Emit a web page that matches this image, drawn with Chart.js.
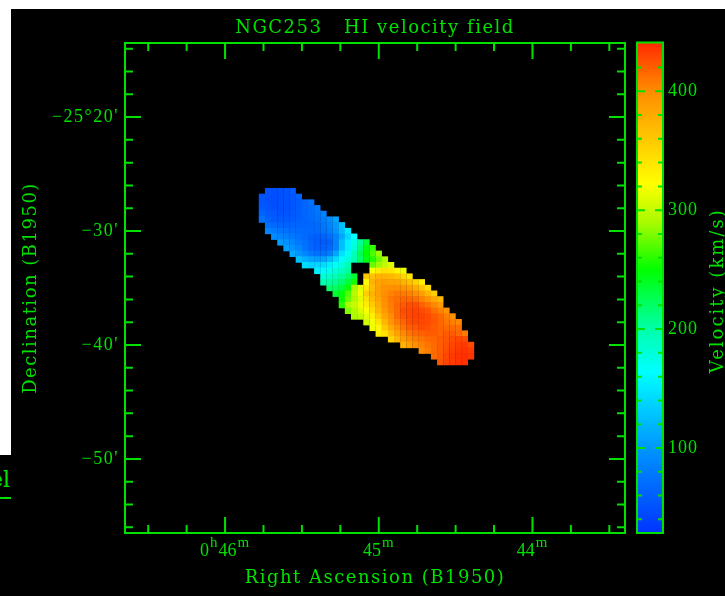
<!DOCTYPE html>
<html>
<head>
<meta charset="utf-8">
<title>NGC253 HI velocity field</title>
<script src="https://cdn.jsdelivr.net/npm/chart.js@4.4.0/dist/chart.umd.min.js"></script>
<style>
  html, body { margin: 0; padding: 0; background: #fff; overflow: hidden; }
  .blk { position: absolute; background: #000; }
  #main { position: absolute; left: 0; top: 0; }
  #cbar { position: absolute; left: 630px; top: 0; }
  #frag { position: absolute; left: 0; top: 465px; width: 11px; height: 30px; overflow: hidden; }
  #frag span { position: absolute; right: 1px; top: 0; font: 22px 'DejaVu Serif'; color: rgb(0,225,0); line-height: 30px; white-space: nowrap; }
  #fragLine { position: absolute; left: 0; top: 497px; width: 11px; height: 2px; background: rgb(0,225,0); }
</style>
</head>
<body>
<div class="blk" style="left:11px;top:9px;width:714px;height:587px"></div>
<div class="blk" style="left:0;top:455px;width:11px;height:141px"></div>
<div id="frag"><span>el</span></div>
<div id="fragLine"></div>
<canvas id="main" width="725" height="596"></canvas>
<canvas id="cbar" width="95" height="596"></canvas>
<script>
const GREEN = 'rgb(0,225,0)';
const TICK_FONT = 'Liberation Serif';
const LABEL_FONT = 'DejaVu Serif';

// RA in minutes of 0h, Dec as arcmin past -25 deg
const raRange = [43.398, 46.651];
const decRange = [-56.5, -13.5];
const raMajor = [46, 45, 44];
const raLabels = ['0h46m', '45m', '44m'];   // letters go up as superscripts
const decMajor = [-20, -30, -40, -50];
const decLabels = ["−25°20'", "−30'", "−40'", "−50'"];

// colour bar (km/s)
const velRange = [28.5, 441];
const velMajor = [100, 200, 300, 400];
const velLabels = ['100', '200', '300', '400'];

// colour table
const cmapVals = [28, 60, 100, 164, 200, 250, 290, 322, 360, 400, 420, 441];
const cmapR = [0, 0, 0, 0, 0, 0, 170, 255, 255, 255, 255, 255];
const cmapG = [50, 95, 150, 255, 255, 255, 250, 255, 200, 140, 95, 40];
const cmapB = [255, 255, 255, 255, 170, 0, 0, 0, 0, 0, 0, 0];

// velocity field: one row per 0.5' of Dec, cells every 0.04 min of RA going west
const raStep = 0.04;
const decRows = [-26.5, -27.0, -27.5, -28.0, -28.5, -29.0, -29.5, -30.0, -30.5, -31.0,
  -31.5, -32.0, -32.5, -33.0, -33.5, -34.0, -34.5, -35.0, -35.5, -36.0,
  -36.5, -37.0, -37.5, -38.0, -38.5, -39.0, -39.5, -40.0, -40.5, -41.0, -41.5];
const raFirst = [45.72, 45.76, 45.76, 45.76, 45.76, 45.76, 45.72, 45.72, 45.68, 45.64,
  45.60, 45.56, 45.52, 45.48, 45.40, 45.36, 45.36, 45.32, 45.28, 45.24,
  45.24, 45.20, 45.16, 45.08, 45.04, 45.00, 44.92, 44.84, 44.72, 44.64, 44.60];
const velRows = [
  [50, 49, 50, 52, 57],
  [51, 49, 48, 48, 51, 54, 60],
  [53, 50, 48, 49, 50, 54, 58, 64, 73],
  [57, 52, 49, 50, 51, 53, 58, 65, 70, 79],
  [64, 57, 54, 51, 53, 55, 59, 64, 69, 75, 85],
  [72, 63, 57, 56, 57, 58, 61, 64, 67, 72, 80, 93, 107],
  [73, 67, 63, 63, 64, 64, 65, 66, 69, 76, 86, 102, 125],
  [86, 80, 75, 72, 70, 68, 67, 67, 68, 75, 82, 98, 123, 151],
  [93, 87, 83, 78, 74, 68, 62, 60, 62, 70, 85, 110, 140, 165],
  [103, 96, 88, 80, 72, 64, 58, 57, 60, 85, 125, 155, 175, 205, 232],
  [105, 98, 88, 75, 65, 60, 60, 66, 85, 125, 155, 180, 215, 245, 262],
  [110, 100, 88, 78, 72, 72, 82, 110, 145, 170, 195, 225, 250, 268, 285],
  [125, 115, 108, 104, 108, 122, 142, 162, 180, 198, 220, 245, 258, 275, 292],
  [142, 137, 138, 142, 154, 167, 179, 198, null, null, null, 275, 288, 298, 310],
  [155, 161, 171, 181, 191, 204, null, null, null, 320, 335, 345, 340, 328, 315],
  [179, 187, 195, 205, 219, 235, null, 360, 364, 374, 375, 372, 364, 351, 337],
  [196, 202, 208, 218, 232, 255, null, 323, 374, 384, 388, 385, 384, 375, 366, 353, 334],
  [219, 222, 232, 252, 290, 311, 339, 367, 387, 395, 397, 398, 395, 389, 378, 364, 346],
  [236, 248, 268, 296, 316, 357, 375, 387, 398, 404, 409, 408, 405, 399, 388, 371, 356],
  [250, 275, 293, 311, 342, 366, 384, 398, 409, 413, 417, 416, 413, 405, 395, 381, 370],
  [258, 290, 301, 316, 335, 357, 378, 396, 407, 416, 422, 427, 427, 419, 411, 401, 390],
  [280, 293, 309, 321, 346, 372, 391, 405, 415, 427, 429, 431, 428, 423, 413, 405, 395],
  [291, 298, 313, 331, 360, 382, 399, 415, 424, 429, 432, 431, 428, 422, 415, 406, 397],
  [304, 318, 343, 372, 394, 408, 418, 427, 430, 430, 428, 423, 417, 410, 406, 402],
  [316, 328, 359, 381, 398, 411, 421, 423, 428, 425, 422, 418, 415, 415, 413],
  [330, 341, 367, 387, 401, 411, 417, 419, 422, 421, 418, 421, 422, 416, 409],
  [350, 372, 389, 400, 407, 411, 415, 417, 421, 423, 427, 430, 428],
  [374, 388, 397, 406, 411, 415, 421, 425, 430, 433, 434, 428],
  [400, 407, 415, 421, 427, 432, 435, 437, 434],
  [415, 422, 429, 434, 437, 438, 436],
  [424, 430, 434, 437, 438]
];

function velColor(v) {
  let i = 1;
  while (i < cmapVals.length - 1 && v > cmapVals[i]) i++;
  const t = Math.min(1, Math.max(0, (v - cmapVals[i - 1]) / (cmapVals[i] - cmapVals[i - 1])));
  const c = [cmapR, cmapG, cmapB].map(a => Math.round(a[i - 1] + (a[i] - a[i - 1]) * t));
  return `rgb(${c[0]},${c[1]},${c[2]})`;
}

const cells = [];
decRows.forEach((dec, k) => {
  velRows[k].forEach((v, i) => {
    if (v === null) return; // blanked centre
    cells.push({ x: +(raFirst[k] - raStep * i).toFixed(2), y: dec, v: v });
  });
});

// inward tick marks, pgplot style
function tickList(from, to, step, major, majLen, minLen) {
  const out = [];
  for (let v = from; v <= to + 1e-9; v += step) {
    const r = Math.round(v * 100) / 100;
    out.push([r, major.includes(r) ? majLen : minLen]);
  }
  return out;
}

const spacing = {
  id: 'spacing',
  beforeDraw(chart, args, opts) { chart.ctx.letterSpacing = opts.px + 'px'; }
};

const boxPlugin = {
  id: 'box',
  afterDatasetsDraw(chart, args, opts) {
    const { ctx, chartArea: a, scales } = chart;
    ctx.save();
    ctx.strokeStyle = GREEN;
    ctx.lineWidth = 2;
    ctx.beginPath();
    (opts.x || []).forEach(([v, len]) => {
      const px = scales.x.getPixelForValue(v);
      ctx.moveTo(px, a.top); ctx.lineTo(px, a.top + len);
      ctx.moveTo(px, a.bottom); ctx.lineTo(px, a.bottom - len);
    });
    (opts.y || []).forEach(([v, len]) => {
      const py = scales.y.getPixelForValue(v);
      ctx.moveTo(a.left, py); ctx.lineTo(a.left + len, py);
      ctx.moveTo(a.right, py); ctx.lineTo(a.right - len, py);
    });
    ctx.stroke();
    ctx.strokeRect(a.left, a.top, a.right - a.left, a.bottom - a.top);
    ctx.restore();
  }
};

// RA labels with raised h / m
const raLabelPlugin = {
  id: 'raLabels',
  afterDraw(chart) {
    const { ctx, chartArea: a, scales } = chart;
    ctx.save();
    ctx.letterSpacing = '0px';
    ctx.fillStyle = GREEN;
    ctx.textAlign = 'left';
    ctx.textBaseline = 'alphabetic';
    raMajor.forEach((v, i) => {
      const parts = raLabels[i].match(/\d+|[a-z]+/g);
      const isNum = parts.map(p => /\d/.test(p));
      const fonts = isNum.map(n => (n ? 18 : 15) + `px '${TICK_FONT}'`);
      let w = 0;
      parts.forEach((p, j) => { ctx.font = fonts[j]; w += ctx.measureText(p).width + 1; });
      let x = scales.x.getPixelForValue(v) - w / 2;
      parts.forEach((p, j) => {
        ctx.font = fonts[j];
        ctx.fillText(p, x, a.bottom + (isNum[j] ? 23 : 14));
        x += ctx.measureText(p).width + 1;
      });
    });
    ctx.restore();
  }
};

const cbarTitle = {
  id: 'cbarTitle',
  afterDraw(chart) {
    const { ctx, chartArea: a } = chart;
    ctx.save();
    ctx.letterSpacing = '2px';
    ctx.translate(88.4, (a.top + a.bottom) / 2 + 3);
    ctx.rotate(-Math.PI / 2);
    ctx.fillStyle = GREEN;
    ctx.font = `18px '${LABEL_FONT}'`;
    ctx.textAlign = 'center';
    ctx.textBaseline = 'middle';
    ctx.fillText('Velocity (km/s)', 0, 0);
    ctx.restore();
  }
};

function cbarGradient(chart) {
  const { ctx, chartArea, scales } = chart;
  if (!chartArea) return 'transparent';
  const y = scales.y;
  const g = ctx.createLinearGradient(0, y.getPixelForValue(velRange[0]), 0, y.getPixelForValue(velRange[1]));
  const span = velRange[1] - velRange[0];
  g.addColorStop(0, velColor(velRange[0]));
  cmapVals.forEach(v => {
    const off = (v - velRange[0]) / span;
    if (off > 0 && off < 1) g.addColorStop(off, velColor(v));
  });
  g.addColorStop(1, velColor(velRange[1]));
  return g;
}

const tickFont = { family: TICK_FONT, size: 18 };
const labelFont = { family: LABEL_FONT, size: 18, weight: 'normal' };

new Chart(document.getElementById('main'), {
  type: 'scatter',
  data: {
    datasets: [{
      data: cells,
      backgroundColor: cells.map(c => velColor(c.v)),
      pointStyle: 'rect',
      pointRadius: 4.5,
      pointHoverRadius: 4.5,
      borderWidth: 0
    }]
  },
  options: {
    responsive: false,
    animation: false,
    devicePixelRatio: 1,
    events: [],
    layout: { padding: { left: 0, right: 100, top: 0, bottom: 0 } },
    plugins: {
      legend: { display: false },
      tooltip: { enabled: false },
      spacing: { px: 1.5 },
      title: {
        display: true,
        fullSize: false,
        text: 'NGC253   HI velocity field',
        color: GREEN,
        font: labelFont,
        padding: { top: 18, bottom: 3.4 }
      },
      box: {
        x: tickList(43.5, 46.5, 0.25, raMajor, 16, 8),
        y: tickList(-56, -14, 2, decMajor, 16, 8)
      }
    },
    scales: {
      x: {
        type: 'linear',
        reverse: true,
        min: raRange[0],
        max: raRange[1],
        afterBuildTicks: s => { s.ticks = raMajor.map(v => ({ value: v })); },
        afterFit: s => { s.height = 63; },
        grid: { display: false, drawTicks: false },
        border: { display: false },
        ticks: { display: false },
        title: { display: true, text: 'Right Ascension (B1950)', color: GREEN, font: labelFont, padding: { top: 0, bottom: 7 } }
      },
      y: {
        type: 'linear',
        min: decRange[0],
        max: decRange[1],
        afterBuildTicks: s => { s.ticks = decMajor.map(v => ({ value: v })); },
        afterFit: s => { s.width = 125; },
        grid: { display: false, drawTicks: false },
        border: { display: false },
        ticks: {
          color: GREEN, font: tickFont, padding: 6, autoSkip: false,
          callback: v => decLabels[decMajor.indexOf(v)]
        },
        title: { display: true, text: 'Declination (B1950)', color: GREEN, font: labelFont, padding: { top: 21, bottom: 0 } }
      }
    }
  },
  plugins: [spacing, boxPlugin, raLabelPlugin]
});

new Chart(document.getElementById('cbar'), {
  type: 'bar',
  data: {
    labels: ['v'],
    datasets: [{
      data: [velRange],
      backgroundColor: ctx => cbarGradient(ctx.chart),
      borderWidth: 0,
      barPercentage: 1,
      categoryPercentage: 1
    }]
  },
  options: {
    responsive: false,
    animation: false,
    devicePixelRatio: 1,
    events: [],
    layout: { padding: { left: 7, right: 0, top: 42.5, bottom: 63 } },
    plugins: {
      legend: { display: false },
      tooltip: { enabled: false },
      spacing: { px: 1 },
      box: { y: tickList(40, 420, 20, velMajor, 8, 5) }
    },
    scales: {
      x: { display: false },
      y: {
        position: 'right',
        min: velRange[0],
        max: velRange[1],
        afterBuildTicks: s => { s.ticks = velMajor.map(v => ({ value: v })); },
        afterFit: s => { s.width = 62; },
        grid: { display: false, drawTicks: false },
        border: { display: false },
        ticks: {
          color: GREEN, font: tickFont, padding: 5, autoSkip: false,
          callback: v => velLabels[velMajor.indexOf(v)]
        }
      }
    }
  },
  plugins: [spacing, boxPlugin, cbarTitle]
});
</script>
</body>
</html>
